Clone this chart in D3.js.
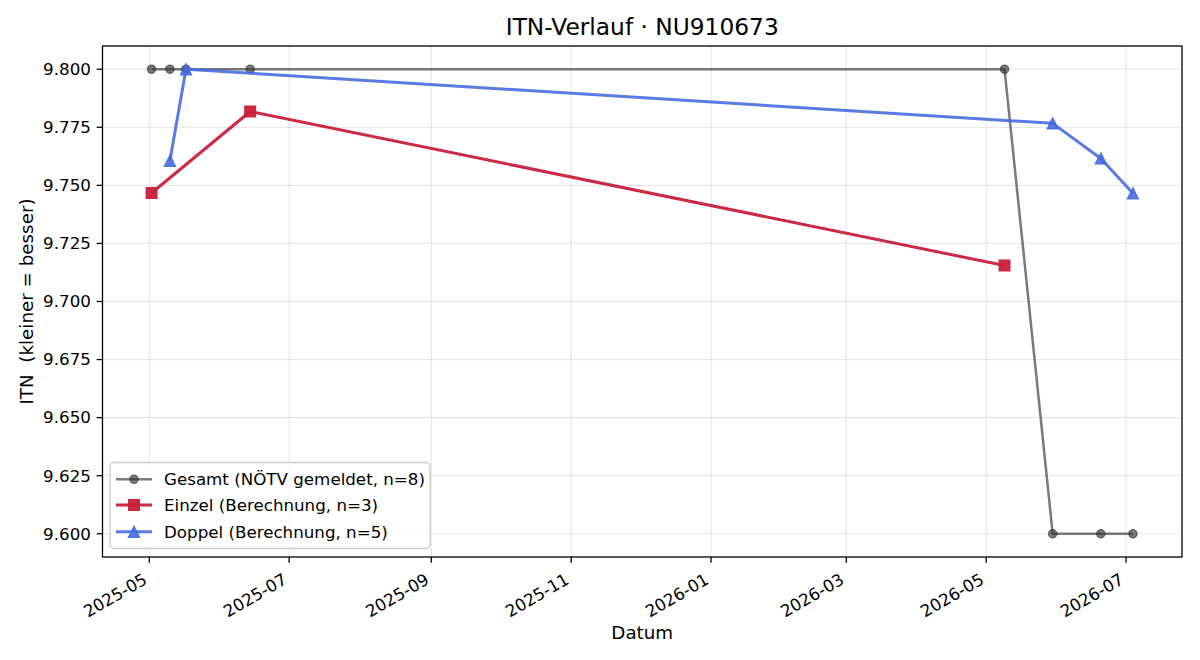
<!DOCTYPE html>
<html>
<head>
<meta charset="utf-8">
<script src="https://cdn.jsdelivr.net/npm/d3@7"></script>
<style>
  body { margin: 0; background: #fff; }
  svg { font-family: "DejaVu Sans", sans-serif; }
</style>
</head>
<body>
<svg id="chart" width="1200" height="660"></svg>
<script>
// data
const gesamtDates = ["2025-05-02", "2025-05-10", "2025-05-17", "2025-06-14", "2026-05-09", "2026-05-30", "2026-06-20", "2026-07-04"];
const gesamtValues = [9.800, 9.800, 9.800, 9.800, 9.800, 9.600, 9.600, 9.600];
const einzelDates = ["2025-05-02", "2025-06-14", "2026-05-09"];
const einzelValues = [9.7467, 9.7818, 9.7155];
const doppelDates = ["2025-05-10", "2025-05-17", "2026-05-30", "2026-06-20", "2026-07-04"];
const doppelValues = [9.7606, 9.8000, 9.7767, 9.7616, 9.7466];
const xTickDates = ["2025-05-01", "2025-07-01", "2025-09-01", "2025-11-01", "2026-01-01", "2026-03-01", "2026-05-01", "2026-07-01"];
const yTicks = [9.600, 9.625, 9.650, 9.675, 9.700, 9.725, 9.750, 9.775, 9.800];
const legendLabels = ["Gesamt (NÖTV gemeldet, n=8)", "Einzel (Berechnung, n=3)", "Doppel (Berechnung, n=5)"];

const parse = d3.utcParse("%Y-%m-%d");
const fmtMonth = d3.utcFormat("%Y-%m");

const series = [
  { name: legendLabels[0], dates: gesamtDates, values: gesamtValues, color: "#333333", opacity: 0.65, width: 2.5, marker: "circle" },
  { name: legendLabels[1], dates: einzelDates, values: einzelValues, color: "#c81d3c", opacity: 0.95, width: 3, marker: "square" },
  { name: legendLabels[2], dates: doppelDates, values: doppelValues, color: "#4169e1", opacity: 0.88, width: 3, marker: "triangle" }
];
series.forEach(s => s.points = s.dates.map((d, i) => ({ date: parse(d), value: s.values[i] })));

const svg = d3.select("#chart");
const plotLeft = 102.5, plotRight = 1182, plotTop = 46, plotBottom = 557;

// 5% margins like matplotlib
const allDates = series.flatMap(s => s.points.map(p => +p.date));
const allVals = series.flatMap(s => s.values);
const [dMin, dMax] = d3.extent(allDates);
const [vMin, vMax] = d3.extent(allVals);
const dPad = (dMax - dMin) * 0.05, vPad = (vMax - vMin) * 0.05;

const x = d3.scaleUtc().domain([new Date(dMin - dPad), new Date(dMax + dPad)]).range([plotLeft, plotRight]);
const y = d3.scaleLinear().domain([vMin - vPad, vMax + vPad]).range([plotBottom, plotTop]);

// grid
const grid = svg.append("g").attr("stroke", "#b0b0b0").attr("stroke-opacity", 0.35).attr("stroke-width", 1);
xTickDates.forEach(d => {
  const xx = x(parse(d));
  grid.append("line").attr("x1", xx).attr("x2", xx).attr("y1", plotTop).attr("y2", plotBottom);
});
yTicks.forEach(v => {
  grid.append("line").attr("x1", plotLeft).attr("x2", plotRight).attr("y1", y(v)).attr("y2", y(v));
});

// lines and markers
const line = d3.line().x(p => x(p.date)).y(p => y(p.value));

function drawMarker(g, type, cx, cy, color, opacity) {
  let m;
  if (type === "circle") {
    m = g.append("circle").attr("cx", cx).attr("cy", cy).attr("r", 4.2);
  } else if (type === "square") {
    m = g.append("rect").attr("x", cx - 5.4).attr("y", cy - 5.4).attr("width", 10.8).attr("height", 10.8);
  } else {
    const h = 5.6;
    m = g.append("path").attr("d", `M${cx},${cy - h}L${cx + h},${cy + h}L${cx - h},${cy + h}Z`);
  }
  m.attr("fill", color).attr("fill-opacity", opacity)
    .attr("stroke", color).attr("stroke-opacity", opacity).attr("stroke-width", 1.2);
}

series.forEach(s => {
  const g = svg.append("g");
  g.append("path").datum(s.points).attr("d", line)
    .attr("fill", "none").attr("stroke", s.color).attr("stroke-opacity", s.opacity)
    .attr("stroke-width", s.width).attr("stroke-linejoin", "round");
  s.points.forEach(p => drawMarker(g, s.marker, x(p.date), y(p.value), s.color, s.opacity));
});

// frame
svg.append("rect").attr("x", plotLeft).attr("y", plotTop).attr("width", plotRight - plotLeft).attr("height", plotBottom - plotTop)
  .attr("fill", "none").attr("stroke", "#000").attr("stroke-width", 1.3);

// x ticks
const xt = svg.append("g");
xTickDates.forEach(d => {
  const xx = x(parse(d));
  xt.append("line").attr("x1", xx).attr("x2", xx).attr("y1", plotBottom).attr("y2", plotBottom + 5.8)
    .attr("stroke", "#000").attr("stroke-width", 1.3);
  xt.append("text").attr("transform", `translate(${xx - 1},${plotBottom + 26}) rotate(-30)`)
    .attr("text-anchor", "end").attr("font-size", 16.7).attr("fill", "#000")
    .text(fmtMonth(parse(d)));
});

// y ticks
const yt = svg.append("g");
yTicks.forEach(v => {
  yt.append("line").attr("x1", plotLeft - 5.8).attr("x2", plotLeft).attr("y1", y(v)).attr("y2", y(v))
    .attr("stroke", "#000").attr("stroke-width", 1.3);
  yt.append("text").attr("x", plotLeft - 11.6).attr("y", y(v)).attr("dy", "0.35em")
    .attr("text-anchor", "end").attr("font-size", 16.7).attr("fill", "#000")
    .text(d3.format(".3f")(v));
});

// labels
svg.append("text").attr("x", (plotLeft + plotRight) / 2).attr("y", 639).attr("text-anchor", "middle")
  .attr("font-size", 18.3).text("Datum");
svg.append("text").attr("transform", `translate(33,${(plotTop + plotBottom) / 2}) rotate(-90)`)
  .attr("text-anchor", "middle").attr("font-size", 18.3)
  .style("white-space", "pre").text("ITN  (kleiner = besser)");
svg.append("text").attr("x", (plotLeft + plotRight) / 2).attr("y", 35).attr("text-anchor", "middle")
  .attr("font-size", 23.3).text("ITN-Verlauf · NU910673");

// legend
const lg = svg.append("g");
lg.append("rect").attr("x", 110).attr("y", 462.5).attr("width", 320).attr("height", 86).attr("rx", 4)
  .attr("fill", "#fff").attr("fill-opacity", 0.8).attr("stroke", "#cccccc").attr("stroke-width", 1.3);
const rowY = [479.3, 505, 531.7];
series.forEach((s, i) => {
  lg.append("line").attr("x1", 116).attr("x2", 152).attr("y1", rowY[i]).attr("y2", rowY[i])
    .attr("stroke", s.color).attr("stroke-opacity", s.opacity).attr("stroke-width", s.width);
  drawMarker(lg, s.marker, 134, rowY[i], s.color, s.opacity);
  lg.append("text").attr("x", 164).attr("y", rowY[i]).attr("dy", "0.35em")
    .attr("font-size", 16.7).attr("fill", "#000").text(s.name);
});
</script>
</body>
</html>
